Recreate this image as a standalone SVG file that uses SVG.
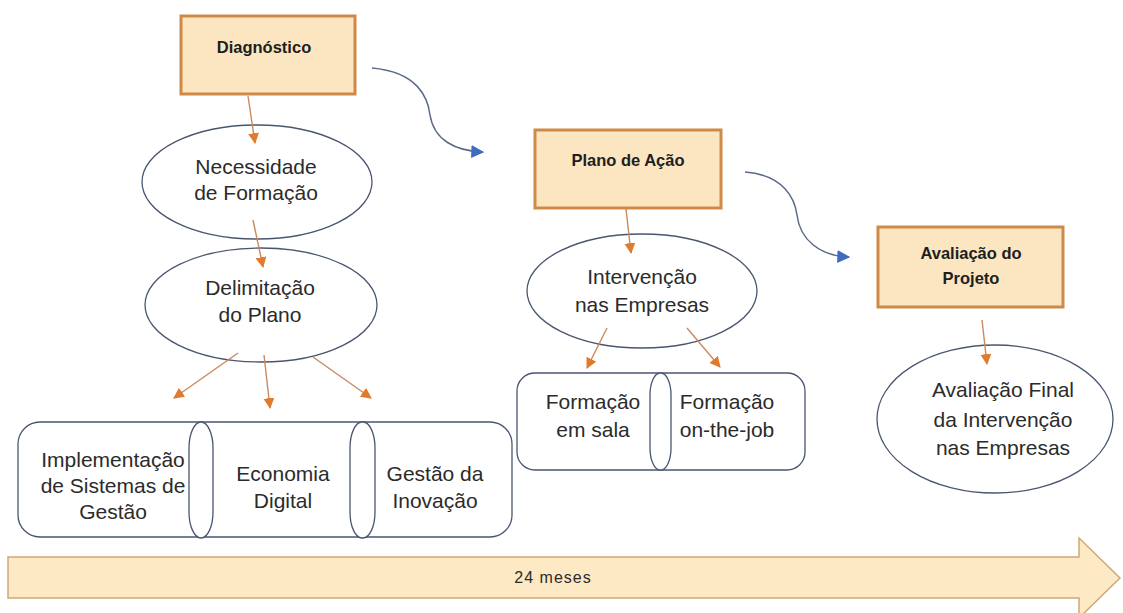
<svg xmlns="http://www.w3.org/2000/svg" width="1123" height="613" viewBox="0 0 1123 613">
<defs>
<marker id="ao" viewBox="0 0 10 10" refX="9" refY="5" markerWidth="11" markerHeight="11" markerUnits="userSpaceOnUse" orient="auto">
<path d="M0,0 L10,5 L0,10 z" fill="#E07B2E"/>
</marker>
<marker id="ab" viewBox="0 0 10 10" refX="9" refY="5" markerWidth="13" markerHeight="13" markerUnits="userSpaceOnUse" orient="auto">
<path d="M0,0 L10,5 L0,10 z" fill="#3F6CC0"/>
</marker>
<style>
.box{fill:#FCE6C2;stroke:#D08A48;stroke-width:3}
.ell{fill:#FFFFFF;stroke:#4A5670;stroke-width:1.3}
.rr{fill:#FFFFFF;stroke:#4A5670;stroke-width:1.3}
.t{font-family:"Liberation Sans",Arial,sans-serif;font-size:21px;fill:#2B2B2B;text-anchor:middle}
.b{font-family:"Liberation Sans",Arial,sans-serif;font-size:16.5px;font-weight:bold;fill:#1E1E1E;text-anchor:middle}
.oc{fill:none;stroke:#C98A5C;stroke-width:1.4;marker-end:url(#ao)}
.bc{fill:none;stroke:#5B6A88;stroke-width:1.5;marker-end:url(#ab)}
</style>
</defs>
<rect width="1123" height="613" fill="#FFFFFF"/>

<g id="timeline">
<path d="M8,557 L1079,557 L1079,538 L1120,578 L1079,618 L1079,598 L8,598 Z" fill="#FDE9C4" stroke="#CFA878" stroke-width="1.5"/>
<text x="553" y="583" font-family="'Liberation Sans',Arial,sans-serif" font-size="16" letter-spacing="1" fill="#2B2B2B" text-anchor="middle">24 meses</text>
</g>

<g id="diagnostico">
<rect class="box" x="181" y="16" width="174" height="78"/>
<text class="b" x="264" y="53">Diagnóstico</text>
</g>

<g id="necessidade">
<ellipse class="ell" cx="257" cy="182" rx="115" ry="57"/>
<text class="t" x="256" y="174">Necessidade</text>
<text class="t" x="256" y="200">de Formação</text>
</g>

<g id="delimitacao">
<ellipse class="ell" cx="261" cy="305" rx="116" ry="57"/>
<text class="t" x="260" y="295">Delimitação</text>
<text class="t" x="260" y="322">do Plano</text>
</g>

<g id="areas">
<rect class="rr" x="18" y="422" width="494" height="115" rx="22" ry="22"/>
<rect class="rr" x="189" y="422" width="24" height="116" rx="12" ry="26"/>
<rect class="rr" x="350" y="422" width="25" height="116" rx="12" ry="26"/>
</g>
<g id="implementacao">
<text class="t" x="113" y="467">Implementação</text>
<text class="t" x="113" y="493">de Sistemas de</text>
<text class="t" x="113" y="519">Gestão</text>
</g>
<g id="economia">
<text class="t" x="283" y="481">Economia</text>
<text class="t" x="283" y="508">Digital</text>
</g>
<g id="gestao-inovacao">
<text class="t" x="435" y="481">Gestão da</text>
<text class="t" x="435" y="508">Inovação</text>
</g>

<g id="plano-acao">
<rect class="box" x="535" y="130" width="186" height="78"/>
<text class="b" x="628" y="166">Plano de Ação</text>
</g>

<g id="intervencao">
<ellipse class="ell" cx="642" cy="291" rx="115" ry="57"/>
<text class="t" x="642" y="284">Intervenção</text>
<text class="t" x="642" y="312">nas Empresas</text>
</g>

<g id="formacao">
<rect class="rr" x="517" y="373" width="288" height="97" rx="18" ry="18"/>
<rect class="rr" x="650" y="373" width="21" height="97" rx="10" ry="22"/>
</g>
<g id="formacao-sala">
<text class="t" x="593" y="409">Formação</text>
<text class="t" x="593" y="437">em sala</text>
</g>
<g id="formacao-job">
<text class="t" x="727" y="409">Formação</text>
<text class="t" x="727" y="437">on-the-job</text>
</g>

<g id="avaliacao-projeto">
<rect class="box" x="878" y="227" width="185" height="80"/>
<text class="b" x="971" y="259">Avaliação  do</text>
<text class="b" x="971" y="284">Projeto</text>
</g>

<g id="avaliacao-final">
<ellipse class="ell" cx="995" cy="419" rx="118" ry="74"/>
<text class="t" x="1003" y="397">Avaliação Final</text>
<text class="t" x="1003" y="427">da Intervenção</text>
<text class="t" x="1003" y="455">nas Empresas</text>
</g>

<g id="connectors">
<path class="oc" d="M248,96 L255,143"/>
<path class="oc" d="M253,220 L263,267"/>
<path class="oc" d="M238,353 L174,398"/>
<path class="oc" d="M264,355 L270,408"/>
<path class="oc" d="M313,357 L371,398"/>
<path class="oc" d="M626,209 L631,253"/>
<path class="oc" d="M607,328 L587,368"/>
<path class="oc" d="M687,328 L720,367"/>
<path class="oc" d="M982,320 L987,364"/>
<path class="bc" d="M372,68 C418,72 428,98 430,115 C434,140 455,151 483,152"/>
<path class="bc" d="M745,172 C785,175 795,200 797,215 C800,240 820,256 849,257"/>
</g>
</svg>
